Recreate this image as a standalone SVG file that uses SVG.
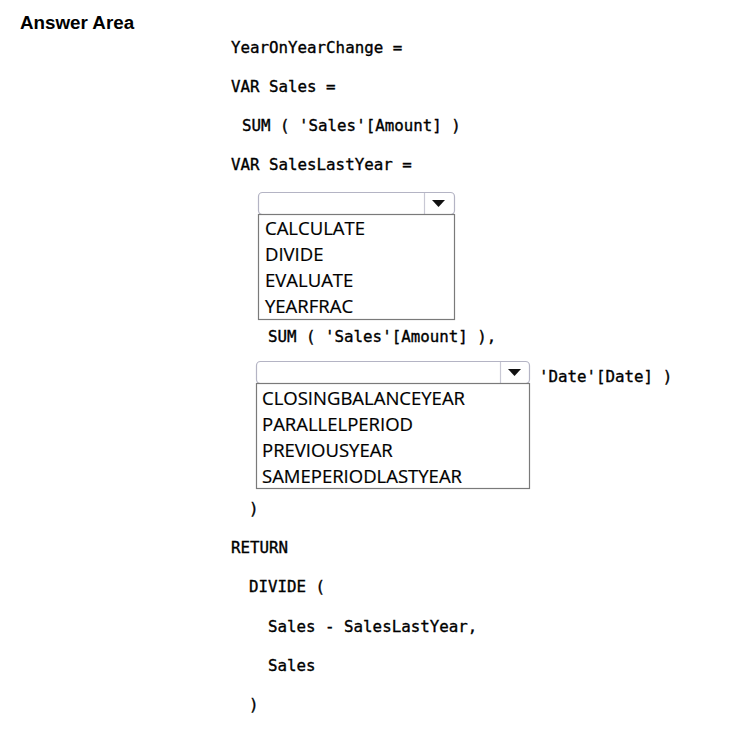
<svg xmlns="http://www.w3.org/2000/svg" width="753" height="738" viewBox="0 0 753 738">
<style>
.code{font-family:"DejaVu Sans Mono","Liberation Mono",monospace;font-size:15.8px;fill:#000;stroke:#000;stroke-width:0.35}
.opt{font-family:"Open Sans","Noto Sans",sans-serif;font-size:18.5px;fill:#000;stroke:#000;stroke-width:0.2}
.title{font-family:"Liberation Sans",Arial,sans-serif;font-size:18.8px;font-weight:bold;fill:#000}
.hdr{fill:#fff;stroke:#b4b4c4;stroke-width:1.2}
.div{stroke:#c8c8d4;stroke-width:1.2}
.list{fill:#fff;stroke:#7a7a7a;stroke-width:1.2}
</style>
<rect width="753" height="738" fill="#fff"/>
<text class="title" x="20" y="29">Answer Area</text>
<g id="code">
<text class="code" x="231" y="53">YearOnYearChange =</text>
<text class="code" x="231" y="92">VAR Sales =</text>
<text class="code" x="242" y="131">SUM ( 'Sales'[Amount] )</text>
<text class="code" x="231" y="170">VAR SalesLastYear =</text>
<text class="code" x="268" y="342">SUM ( 'Sales'[Amount] ),</text>
<text class="code" x="539" y="382">'Date'[Date] )</text>
<text class="code" x="249" y="514">)</text>
<text class="code" x="231" y="553">RETURN</text>
<text class="code" x="249" y="592">DIVIDE (</text>
<text class="code" x="268" y="632">Sales - SalesLastYear,</text>
<text class="code" x="268" y="671">Sales</text>
<text class="code" x="249" y="710">)</text>
</g>
<g id="dropdown1">
<rect class="hdr" x="258.5" y="192.5" width="196" height="22" rx="4"/>
<line class="div" x1="424.5" y1="193" x2="424.5" y2="214"/>
<polygon points="432,200 445,200 438.5,207" fill="#111"/>
<rect class="list" x="258.5" y="214.5" width="196" height="105"/>
<text class="opt" x="265" y="235">CALCULATE</text>
<text class="opt" x="265" y="261">DIVIDE</text>
<text class="opt" x="265" y="287">EVALUATE</text>
<text class="opt" x="265" y="313">YEARFRAC</text>
</g>
<g id="dropdown2">
<rect class="hdr" x="256.5" y="361.5" width="273" height="22" rx="4"/>
<line class="div" x1="500.5" y1="362" x2="500.5" y2="383"/>
<polygon points="508,369 521,369 514.5,376" fill="#111"/>
<rect class="list" x="256.5" y="383.5" width="273" height="105"/>
<text class="opt" x="262" y="405">CLOSINGBALANCEYEAR</text>
<text class="opt" x="262" y="431">PARALLELPERIOD</text>
<text class="opt" x="262" y="457">PREVIOUSYEAR</text>
<text class="opt" x="262" y="483">SAMEPERIODLASTYEAR</text>
</g>
<g id="connectors"></g>
</svg>
